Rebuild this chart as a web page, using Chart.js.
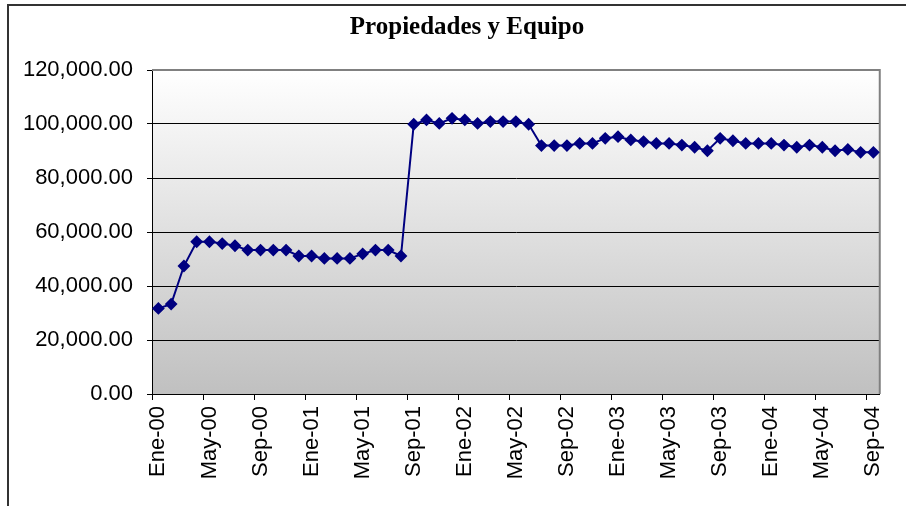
<!DOCTYPE html>
<html lang="es">
<head>
    <meta charset="UTF-8">
    <title>Propiedades y Equipo</title>
    <script src="https://cdn.jsdelivr.net/npm/chart.js"></script>
    <style>
        html, body { margin: 0; padding: 0; background: #ffffff; }
        #wrap { width: 906px; height: 506px; position: relative; }
    </style>
</head>
<body>
    <div id="wrap"><canvas id="graphique" width="906" height="506"></canvas></div>
    <script>
        // Datos mensuales (Ene-00 a Sep-04)
        const meses = ['Ene', 'Feb', 'Mar', 'Abr', 'May', 'Jun', 'Jul', 'Ago', 'Sep', 'Oct', 'Nov', 'Dic'];
        const anios = ['00', '01', '02', '03', '04'];
        const etiquetas = [];
        anios.forEach(a => meses.forEach(m => etiquetas.push(m + '-' + a)));
        etiquetas.length = 57;

        const valores = [
            31700, 33300, 47400, 56400, 56400, 55700, 54900, 53300, 53300, 53300, 53300, 51100,
            51100, 50200, 50200, 50200, 51900, 53300, 53300, 51100,
            99900, 101500, 100200, 102100, 101500, 100200, 100900, 100900, 100900, 99900,
            92000, 92000, 92000, 92800, 92800, 94700, 95300, 94100, 93500, 92800,
            92800, 92200, 91400, 90100, 94700, 93800, 92800, 92800, 92800, 92200,
            91400, 92200, 91400, 90100, 90600, 89500, 89500
        ];
        const yTicks = [0, 20000, 40000, 60000, 80000, 100000, 120000];

        // Fondo degradado, borde del área de trazado y marco del gráfico
        const fondo = {
            id: 'fondo',
            afterLayout(chart) {
                // el título va centrado sobre el marco completo (más ancho que el lienzo)
                const t = chart.titleBlock;
                if (t) { t.left += 27; t.right += 27; }
            },
            beforeDraw(chart) {
                const { ctx, chartArea: a } = chart;
                const g = ctx.createLinearGradient(0, a.top, 0, a.bottom);
                g.addColorStop(0, '#ffffff');
                g.addColorStop(1, '#c0c0c0');
                ctx.save();
                ctx.fillStyle = g;
                ctx.fillRect(a.left, a.top, a.right - a.left, a.bottom - a.top);
                // marco exterior
                ctx.strokeStyle = '#333333';
                ctx.lineWidth = 2;
                ctx.beginPath();
                ctx.moveTo(8, 506);
                ctx.lineTo(8, 5);
                ctx.lineTo(906, 5);
                ctx.stroke();
                ctx.restore();
            },
            beforeDatasetsDraw(chart) {
                const { ctx, chartArea: a } = chart;
                ctx.save();
                ctx.strokeStyle = '#808080';
                ctx.lineWidth = 2;
                ctx.beginPath();
                ctx.moveTo(a.left, a.top);
                ctx.lineTo(a.right, a.top);
                ctx.lineTo(a.right, a.bottom);
                ctx.stroke();
                ctx.restore();
            }
        };

        const fuente = { family: "'Liberation Sans', Arial, sans-serif", size: 22 };

        new Chart(document.getElementById('graphique'), {
            type: 'line',
            data: {
                labels: etiquetas,
                datasets: [{
                    label: 'Propiedades y Equipo',
                    data: valores,
                    borderColor: '#000080',
                    backgroundColor: '#000080',
                    borderWidth: 2,
                    pointStyle: 'rectRot',
                    pointRadius: 5,
                    pointHoverRadius: 5,
                    tension: 0
                }]
            },
            options: {
                responsive: false,
                animation: false,
                layout: { padding: { top: 0, right: 26, bottom: 0, left: 0 } },
                plugins: {
                    legend: { display: false },
                    tooltip: { enabled: false },
                    title: {
                        display: true,
                        text: 'Propiedades y Equipo',
                        color: '#000000',
                        font: { family: "'Liberation Serif', 'Times New Roman', serif", size: 25, weight: 'bold' },
                        padding: { top: 13, bottom: 27 }
                    }
                },
                scales: {
                    x: {
                        offset: true,
                        afterFit(s) { s.height = 112; },
                        grid: {
                            offset: true,
                            drawOnChartArea: false,
                            tickLength: 6,
                            tickColor: c => (c.index % 4 === 0 ? '#000000' : 'rgba(0,0,0,0)')
                        },
                        border: { color: '#000000', width: 1 },
                        ticks: {
                            autoSkip: false,
                            maxRotation: 90,
                            minRotation: 90,
                            padding: 6,
                            color: '#000000',
                            font: fuente,
                            callback: (v, i) => (i % 4 === 0 ? etiquetas[i] : '')
                        }
                    },
                    y: {
                        min: 0,
                        max: 120000,
                        afterFit(s) { s.width = 152; },
                        afterBuildTicks(s) { s.ticks = yTicks.map(v => ({ value: v })); },
                        grid: { color: '#000000', lineWidth: 1, tickLength: 5 },
                        border: { color: '#000000', width: 1 },
                        ticks: {
                            padding: 14,
                            color: '#000000',
                            font: fuente,
                            callback: v => v.toLocaleString('en-US', { minimumFractionDigits: 2, maximumFractionDigits: 2 })
                        }
                    }
                }
            },
            plugins: [fondo]
        });
    </script>
</body>
</html>
